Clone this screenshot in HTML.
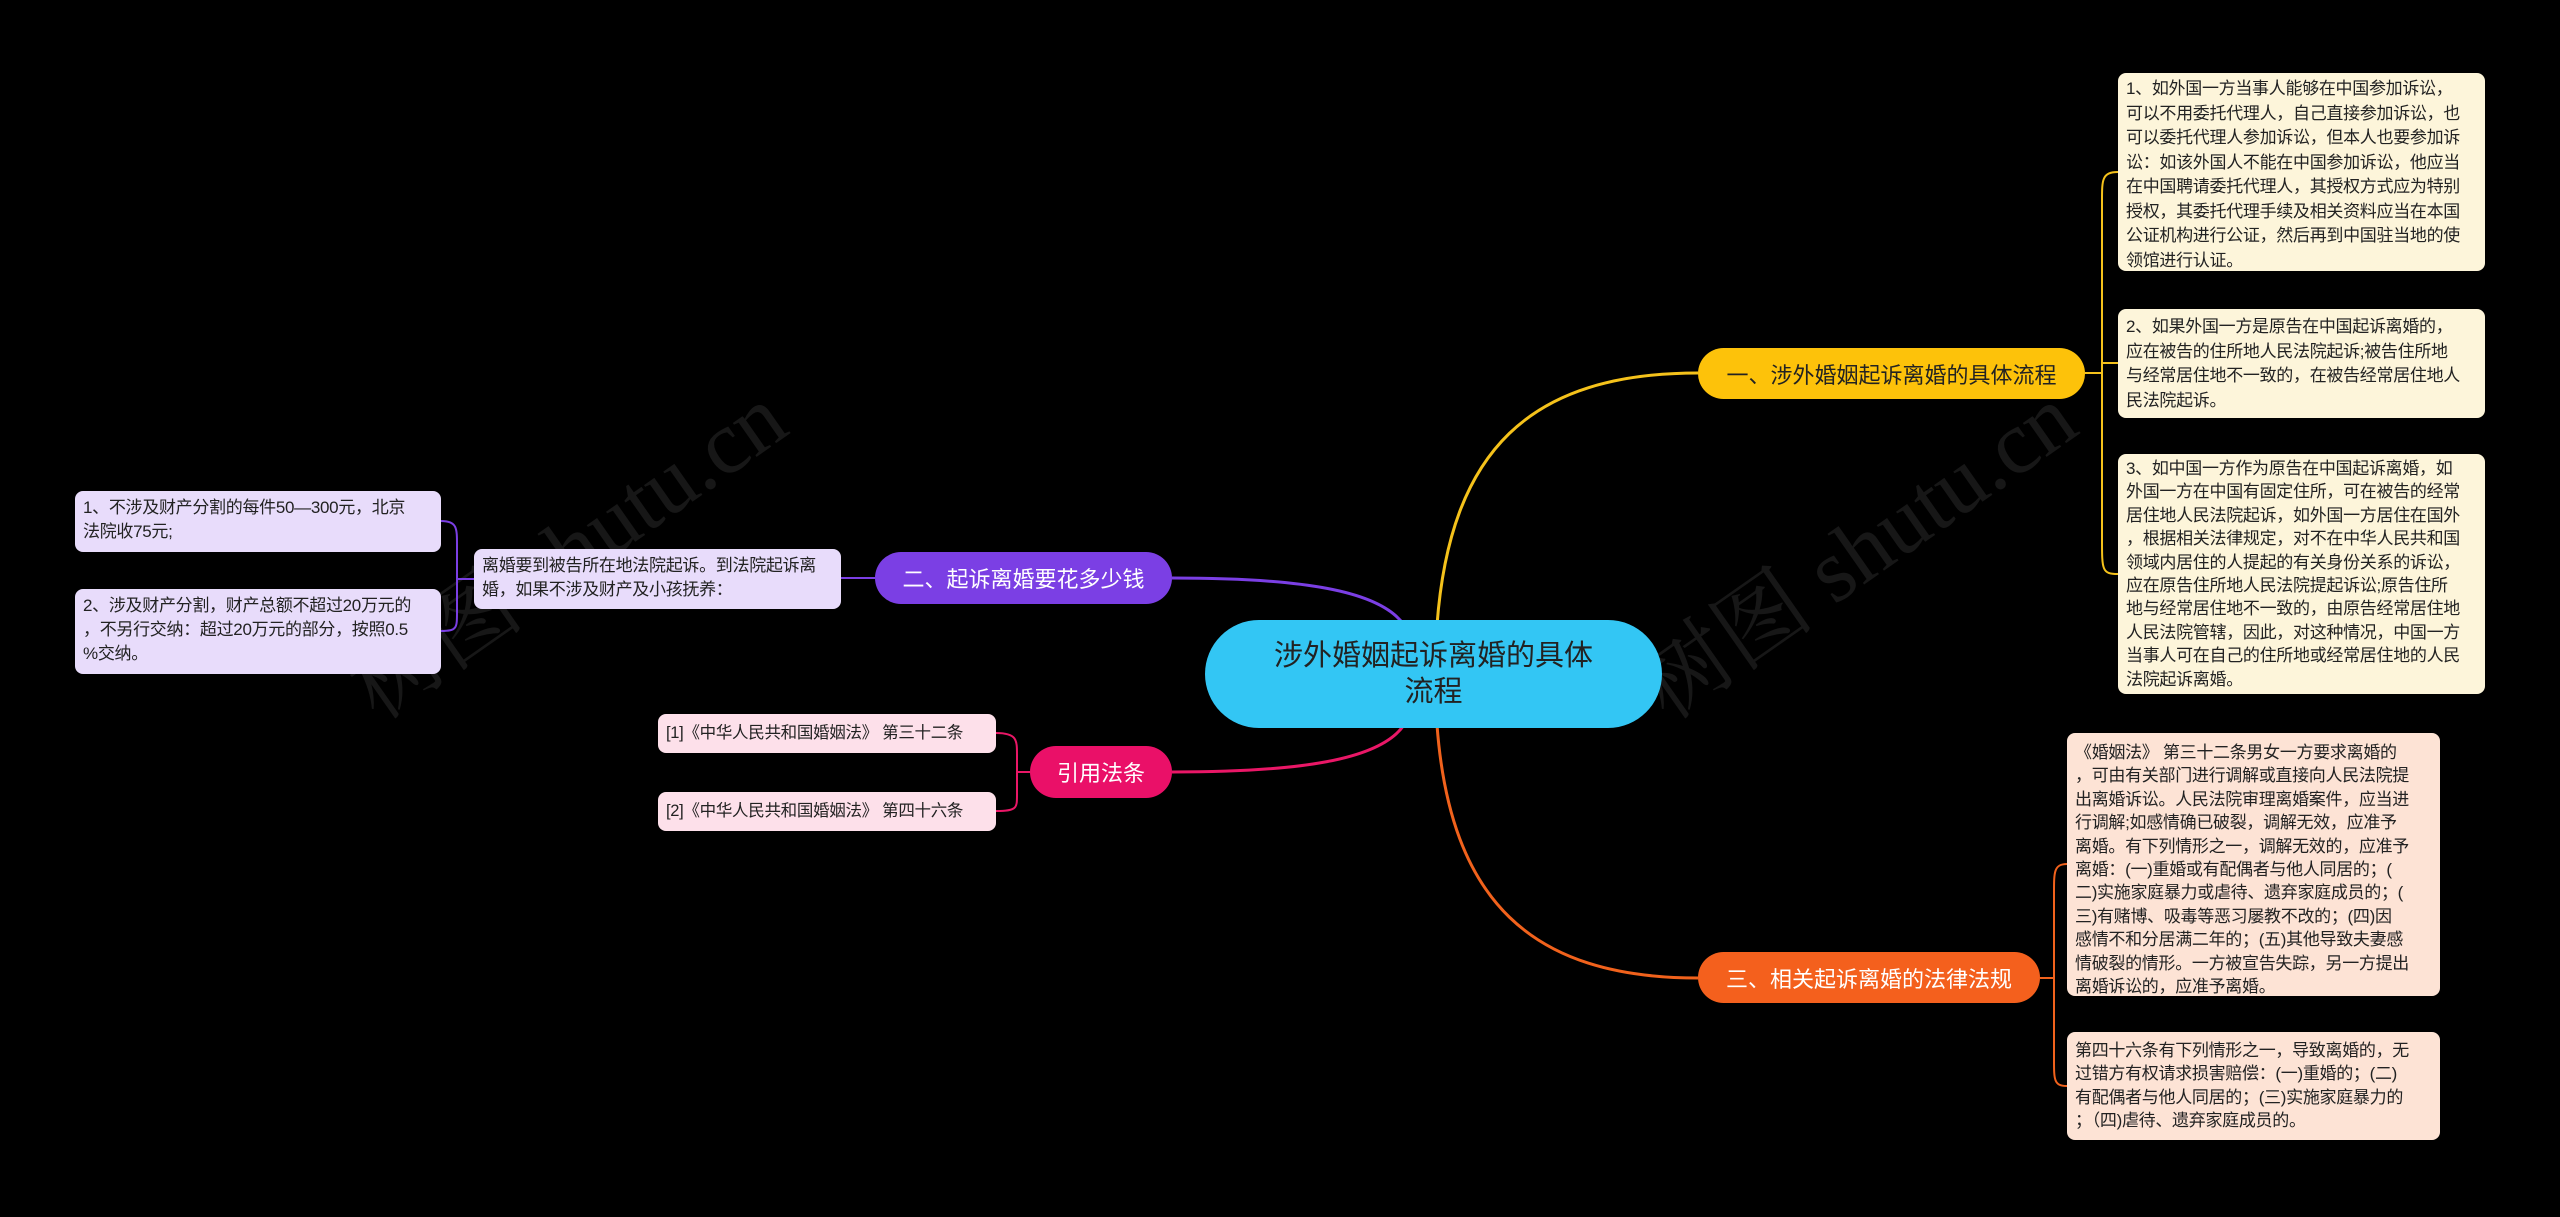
<!DOCTYPE html>
<html><head><meta charset="utf-8"><style>
body{margin:0;width:2560px;height:1217px;background:#000;position:relative;overflow:hidden;font-family:"Liberation Sans","Noto Sans CJK SC",sans-serif}
.b{position:absolute;box-sizing:border-box;border-radius:8px;font-size:17px;line-height:24.5px;color:#222;padding:6px 8px;white-space:nowrap;letter-spacing:-0.3px}
.y{background:#fdf5da}
.o{background:#fde3d5;line-height:23.4px}
.p{background:#e8dcfb}
.k{background:#fde0ea;font-size:16.5px}
.m{position:absolute;box-sizing:border-box;border-radius:26px;display:flex;align-items:center;justify-content:center;font-size:22px}
.wm{position:absolute;color:rgba(255,255,255,0.09);font-size:90px;font-family:"Liberation Serif","Noto Serif CJK SC",serif;transform:rotate(-35deg);white-space:nowrap}
</style></head><body>
<div class="wm" style="left:310px;top:480px">树图 shutu.cn</div>
<div class="wm" style="left:1600px;top:480px">树图 shutu.cn</div>
<svg width="2560" height="1217" style="position:absolute;left:0;top:0">
<g fill="none" stroke-width="3">
<path d="M1437 625 C1450 450 1530 373 1698 373" stroke="#f5c21b"/>
<path d="M1437 725 C1450 900 1530 978 1698 978" stroke="#f1621c"/>
<path d="M1404 625 C1380 590 1300 578 1172 578" stroke="#7b3fe4"/>
<path d="M1404 725 C1380 760 1300 772 1172 772" stroke="#ea1767"/>
<path d="M2085 373 H2102 M2118 172 C2102 172 2102 180 2102 200 V540 C2102 570 2102 574 2118 574 M2102 363 H2118" stroke="#f5c21b" stroke-width="2"/>
<path d="M2040 978 H2054 M2067 864 C2054 864 2054 872 2054 892 V1060 C2054 1080 2054 1086 2067 1086" stroke="#f1621c" stroke-width="2"/>
<path d="M875 578 H841 M474 579 H457 M441 521 C457 521 457 528 457 545 V612 C457 628 457 631 441 631" stroke="#7b3fe4" stroke-width="2"/>
<path d="M1030 772 H1017 M996 733 C1017 733 1017 740 1017 755 V795 C1017 808 1017 811 996 811" stroke="#ea1767" stroke-width="2"/>
</g></svg>

<div class="m" style="left:1205px;top:620px;width:457px;height:108px;background:#33c6f4;border-radius:54px;font-size:29px;line-height:36px;text-align:center;color:#222">涉外婚姻起诉离婚的具体<br>流程</div>
<div class="m" style="left:1698px;top:348px;width:387px;height:51px;background:#fdc20a;color:#222">一、涉外婚姻起诉离婚的具体流程</div>
<div class="m" style="left:1698px;top:952px;width:342px;height:51px;background:#f4601d;color:#fff">三、相关起诉离婚的法律法规</div>
<div class="m" style="left:875px;top:552px;width:297px;height:52px;background:#7b3fe4;color:#fff">二、起诉离婚要花多少钱</div>
<div class="m" style="left:1030px;top:746px;width:142px;height:52px;background:#ea1068;color:#fff">引用法条</div>

<div class="b y" style="left:2118px;top:73px;width:367px;height:198px;padding-top:4px">1、如外国一方当事人能够在中国参加诉讼，<br>可以不用委托代理人，自己直接参加诉讼，也<br>可以委托代理人参加诉讼，但本人也要参加诉<br>讼：如该外国人不能在中国参加诉讼，他应当<br>在中国聘请委托代理人，其授权方式应为特别<br>授权，其委托代理手续及相关资料应当在本国<br>公证机构进行公证，然后再到中国驻当地的使<br>领馆进行认证。</div>
<div class="b y" style="left:2118px;top:309px;width:367px;height:109px">2、如果外国一方是原告在中国起诉离婚的，<br>应在被告的住所地人民法院起诉;被告住所地<br>与经常居住地不一致的，在被告经常居住地人<br>民法院起诉。</div>
<div class="b y" style="left:2118px;top:454px;width:367px;height:240px;padding-top:3px;line-height:23.4px">3、如中国一方作为原告在中国起诉离婚，如<br>外国一方在中国有固定住所，可在被告的经常<br>居住地人民法院起诉，如外国一方居住在国外<br>，根据相关法律规定，对不在中华人民共和国<br>领域内居住的人提起的有关身份关系的诉讼，<br>应在原告住所地人民法院提起诉讼;原告住所<br>地与经常居住地不一致的，由原告经常居住地<br>人民法院管辖，因此，对这种情况，中国一方<br>当事人可在自己的住所地或经常居住地的人民<br>法院起诉离婚。</div>

<div class="b o" style="left:2067px;top:733px;width:373px;height:263px;padding-top:8px">《婚姻法》 第三十二条男女一方要求离婚的<br>，可由有关部门进行调解或直接向人民法院提<br>出离婚诉讼。人民法院审理离婚案件，应当进<br>行调解;如感情确已破裂，调解无效，应准予<br>离婚。有下列情形之一，调解无效的，应准予<br>离婚：(一)重婚或有配偶者与他人同居的；(<br>二)实施家庭暴力或虐待、遗弃家庭成员的；(<br>三)有赌博、吸毒等恶习屡教不改的；(四)因<br>感情不和分居满二年的；(五)其他导致夫妻感<br>情破裂的情形。一方被宣告失踪，另一方提出<br>离婚诉讼的，应准予离婚。</div>
<div class="b o" style="left:2067px;top:1032px;width:373px;height:108px;padding-top:7px">第四十六条有下列情形之一，导致离婚的，无<br>过错方有权请求损害赔偿：(一)重婚的；(二)<br>有配偶者与他人同居的；(三)实施家庭暴力的<br>；（四)虐待、遗弃家庭成员的。</div>

<div class="b p" style="left:474px;top:549px;width:367px;height:60px;padding-top:5px;line-height:24px">离婚要到被告所在地法院起诉。到法院起诉离<br>婚，如果不涉及财产及小孩抚养：</div>
<div class="b p" style="left:75px;top:491px;width:366px;height:61px;padding-top:5px;line-height:24px">1、不涉及财产分割的每件50—300元，北京<br>法院收75元;</div>
<div class="b p" style="left:75px;top:589px;width:366px;height:85px;padding-top:5px;line-height:24px">2、涉及财产分割，财产总额不超过20万元的<br>，不另行交纳：超过20万元的部分，按照0.5<br>%交纳。</div>

<div class="b k" style="left:658px;top:714px;width:338px;height:39px;padding-top:7px;line-height:24px">[1]《中华人民共和国婚姻法》 第三十二条</div>
<div class="b k" style="left:658px;top:792px;width:338px;height:39px;padding-top:7px;line-height:24px">[2]《中华人民共和国婚姻法》 第四十六条</div>
</body></html>
